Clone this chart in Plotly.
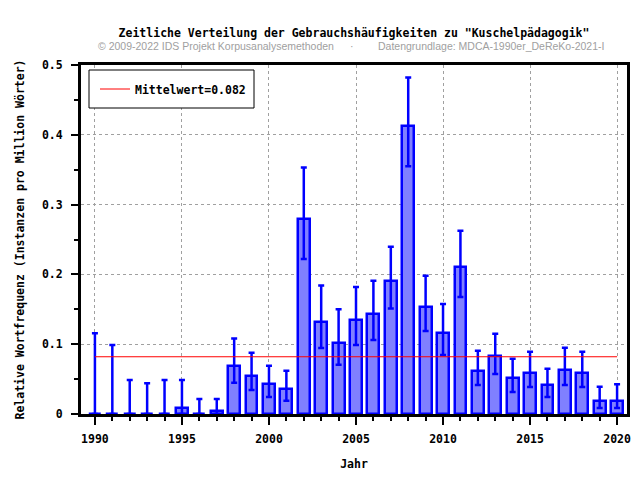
import plotly.graph_objects as go

years = list(range(1990, 2021))
values = [0, 0, 0, 0, 0, 0.009, 0, 0.0047, 0.069, 0.055, 0.0425, 0.0354,
          0.279, 0.132, 0.102, 0.135, 0.143, 0.191, 0.413, 0.154, 0.1165,
          0.21, 0.062, 0.0826, 0.051, 0.059, 0.041, 0.0635, 0.059, 0.019, 0.019]
upper = [0.1156, 0.0989, 0.0487, 0.044, 0.0487, 0.0487, 0.0215, 0.0215,
         0.108, 0.0878, 0.069, 0.062, 0.353, 0.184, 0.150, 0.182, 0.191,
         0.2397, 0.482, 0.198, 0.1576, 0.2626, 0.0907, 0.115, 0.0792, 0.0893,
         0.065, 0.095, 0.0893, 0.039, 0.0425]
lower = [0, 0, 0, 0, 0, 0, 0, 0, 0.0449, 0.0344, 0.0244, 0.019, 0.222, 0.0946,
         0.0706, 0.0989, 0.106, 0.151, 0.355, 0.119, 0.0845, 0.1676, 0.0415,
         0.0573, 0.0315, 0.0387, 0.0244, 0.0415, 0.0387, 0.0086, 0.0086]
y_ticks = [0, 0.1, 0.2, 0.3, 0.4, 0.5]
y_tick_labels = ["0", "0.1", "0.2", "0.3", "0.4", "0.5"]
mean_value = 0.082
mean_label = "Mittelwert=0.082"

err_plus = [u - v for u, v in zip(upper, values)]
err_minus = [v - l for v, l in zip(values, lower)]

MONO = "DejaVu Sans Mono"
FS = 11.5
BOLD = dict(family=MONO, size=FS, color="black", weight="bold")

# page body has an 8px default margin; figure is sized/offset to compensate
OFF = 8
W, H = 640 - 2 * OFF, 480 - 2 * OFF
PL, PR, PT, PB = 81, 627, 65, 414  # plot area in window pixels
PW, PH = PR - PL, PB - PT

fig = go.Figure()

fig.add_trace(go.Scatter(
    x=[years[0], years[-1]], y=[mean_value, mean_value],
    mode="lines", line=dict(color="#ff0000", width=1),
    name=mean_label, showlegend=True, hoverinfo="skip"))

fig.add_trace(go.Bar(
    x=years, y=values, width=0.68,
    marker=dict(color="#8080ff", line=dict(color="#0000ff", width=2.5)),
    error_y=dict(type="data", symmetric=False, array=err_plus,
                 arrayminus=err_minus, color="#0000ff", thickness=2.5, width=3),
    showlegend=False))

fig.update_layout(
    width=W, height=H,
    margin=dict(l=PL - OFF, r=W - (PR - OFF), t=PT - OFF, b=H - (PB - OFF),
                autoexpand=False),
    paper_bgcolor="white", plot_bgcolor="white",
    font=BOLD,
    title=dict(text='Zeitliche Verteilung der Gebrauchshäufigkeiten zu "Kuschelpädagogik"',
               x=(354 - OFF) / W, xanchor="center", xref="container",
               y=1 - (33 - OFF) / H, yanchor="middle", yref="container",
               font=BOLD),
    showlegend=True,
    legend=dict(x=(95 - PL) / PW, y=1 - (89 - PT) / PH, xanchor="left", yanchor="middle",
                bgcolor="rgba(0,0,0,0)", borderwidth=0, font=BOLD),
    bargap=0,
)

fig.add_shape(type="rect", xref="paper", yref="paper",
              x0=(89 - PL) / PW, x1=(254 - PL) / PW,
              y0=1 - (108 - PT) / PH, y1=1 - (70 - PT) / PH,
              line=dict(color="black", width=1), fillcolor="white", layer="above")

fig.update_xaxes(
    range=[1989.2, 2020.57], automargin=False,
    tick0=1990, dtick=5,
    ticks="outside", ticklen=8, tickwidth=2, tickcolor="black",
    minor=dict(dtick=1, tick0=1990, ticks="outside", ticklen=4, tickwidth=2,
               tickcolor="black", showgrid=False),
    showgrid=True, gridcolor="#a0a0a0", griddash="dot", gridwidth=1,
    showline=True, linecolor="black", linewidth=3, mirror=True,
    zeroline=False,
    ticklabelstandoff=4,
    title=dict(text="Jahr", standoff=16, font=BOLD),
    tickfont=BOLD,
)
fig.update_yaxes(
    range=[0, 0.5], automargin=False,
    tickvals=y_ticks, ticktext=y_tick_labels,
    ticks="outside", ticklen=7, tickwidth=2, tickcolor="black",
    minor=dict(dtick=0.05, tick0=0, ticks="outside", ticklen=4, tickwidth=2,
               tickcolor="black", showgrid=False),
    showgrid=True, gridcolor="#a0a0a0", griddash="dot", gridwidth=1,
    showline=True, linecolor="black", linewidth=3, mirror=True,
    zeroline=False,
    ticklabelstandoff=6,
    title=dict(text="Relative Wortfrequenz (Instanzen pro Million Wörter)",
               standoff=15, font=BOLD),
    tickfont=BOLD,
)

SUB = dict(family="Liberation Sans", size=10.5, color="#a0a0a0", weight="normal")
sub_y = 1 + (PT - 46) / PH
fig.add_annotation(text="© 2009-2022 IDS Projekt Korpusanalysemethoden",
                   xref="paper", yref="paper", x=(96 - PL) / PW, y=sub_y,
                   xanchor="left", yanchor="middle", showarrow=False, font=SUB)
fig.add_annotation(text="·", xref="paper", yref="paper",
                   x=(352 - PL) / PW, y=sub_y,
                   xanchor="center", yanchor="middle", showarrow=False, font=SUB)
fig.add_annotation(text="Datengrundlage: MDCA-1990er_DeReKo-2021-I",
                   xref="paper", yref="paper", x=(376 - PL) / PW, y=sub_y,
                   xanchor="left", yanchor="middle", showarrow=False, font=SUB)

fig.write_html("out.html")
